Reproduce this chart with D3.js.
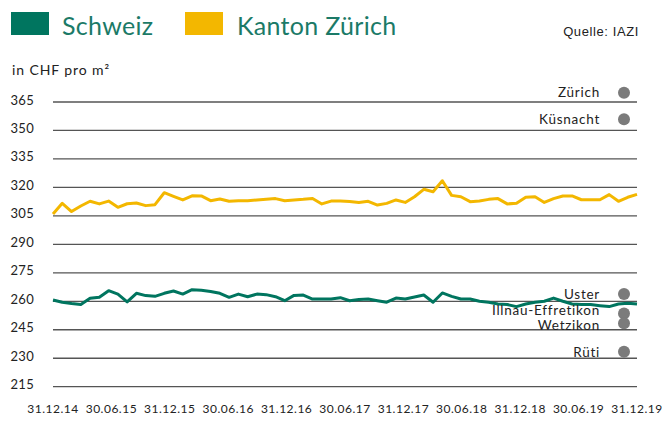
<!DOCTYPE html>
<meta charset="utf-8">
<script src="https://d3js.org/d3.v7.min.js"></script>
<style>
  body { margin: 0; background: #fff; }
  text { font-family: Lato, "Open Sans", sans-serif; }
</style>
<svg id="chart" width="664" height="426"></svg>
<script>

// data
var schweiz = [260.7,259.5,258.8,258.3,261.6,262.1,265.6,263.8,259.7,264.2,263.0,262.6,264.2,265.4,263.8,266.1,
  265.8,265.2,264.2,262.1,263.8,262.4,263.8,263.5,262.4,260.3,263.1,263.3,261.2,261.2,261.2,261.9,
  260.3,260.9,261.2,260.3,259.5,261.7,261.2,262.3,263.3,259.5,264.4,262.6,261.2,261.2,260.0,259.5,
  258.6,258.3,257.2,258.6,259.5,260.0,261.7,260.0,258.6,258.3,258.3,257.7,257.2,258.6,259.0,258.6];

var zuerich = [306.0,311.6,307.3,310.2,312.7,311.3,312.8,309.5,311.4,311.8,310.4,310.9,317.2,315.3,313.4,315.6,
  315.5,313.0,313.9,312.7,313.0,313.0,313.4,313.7,314.1,313.0,313.4,313.7,314.2,311.3,312.8,312.9,
  312.6,312.1,312.7,310.7,311.6,313.4,312.1,315.1,319.0,317.7,323.5,315.8,315.1,312.5,312.8,313.7,
  314.1,311.3,311.6,314.8,315.1,312.1,314.1,315.5,315.5,313.5,313.5,313.5,316.2,312.7,314.8,316.3];

var dateLabels = ["31.12.14","30.06.15","31.12.15","30.06.16","31.12.16","30.06.17",
  "31.12.17","30.06.18","31.12.18","30.06.19","31.12.19"];

var yTicks = [215,230,245,260,275,290,305,320,335,350,365];

var gemeinden = ["Zürich","Küsnacht","Uster","Illnau-Effretikon","Wetzikon","Rüti"];
var gemeindeWerte = [369.9,355.9,263.8,253.6,248.4,233.4];

var svg = d3.select("#chart");

var green = "#00755f", yellow = "#f3b700";

var x = d3.scaleLinear().domain([0, schweiz.length - 1]).range([53, 637]);
var xLab = d3.scalePoint().domain(dateLabels).range([53, 637]);
var y = d3.scaleLinear().domain([215, 365]).range([386.7, 102]);

// legend
svg.append("rect").attr("x", 11).attr("y", 12).attr("width", 38).attr("height", 23).attr("fill", green);
svg.append("text").attr("x", 62).attr("y", 35).text("Schweiz")
  .style("font-size", "25px").style("letter-spacing", "0.3px").attr("fill", "#1b7a67");
svg.append("rect").attr("x", 185).attr("y", 12).attr("width", 38).attr("height", 23).attr("fill", yellow);
svg.append("text").attr("x", 237).attr("y", 35).text("Kanton Zürich")
  .style("font-size", "25px").style("letter-spacing", "0.3px").attr("fill", "#1b7a67");

svg.append("text").attr("x", 639).attr("y", 36).attr("text-anchor", "end")
  .text("Quelle: IAZI").style("font-size", "13px").style("letter-spacing", "0.6px")
  .style("font-family", "'Liberation Sans', Arial, sans-serif").attr("fill", "#222");

svg.append("text").attr("x", 12).attr("y", 75).text("in CHF pro m²")
  .style("font-size", "14px").style("letter-spacing", "0.9px").attr("fill", "#222");

// grid + y labels
svg.append("g").selectAll("line").data(yTicks).enter().append("line")
  .attr("x1", 53).attr("x2", 637)
  .attr("y1", function(d){ return y(d) }).attr("y2", function(d){ return y(d) })
  .attr("stroke", "#555").attr("stroke-width", 1.3);

svg.append("g").selectAll("text").data(yTicks).enter().append("text")
  .attr("x", 34).attr("y", function(d){ return y(d) - 2 })
  .attr("dy", "0.35em").attr("text-anchor", "end")
  .text(function(d){ return d })
  .style("font-size", "13px").style("letter-spacing", "0.3px").attr("fill", "#222");

// x labels
svg.append("g").selectAll("text").data(dateLabels).enter().append("text")
  .attr("x", function(d){ return xLab(d) }).attr("y", 413)
  .attr("text-anchor", "middle")
  .text(function(d){ return d })
  .style("font-size", "12px").style("letter-spacing", "0.5px").attr("fill", "#222");

// lines
var line = d3.line().x(function(d, i){ return x(i) }).y(function(d){ return y(d) });

svg.append("path").datum(zuerich).attr("d", line)
  .attr("fill", "none").attr("stroke", yellow).attr("stroke-width", 3).attr("stroke-linejoin", "round");
svg.append("path").datum(schweiz).attr("d", line)
  .attr("fill", "none").attr("stroke", green).attr("stroke-width", 3).attr("stroke-linejoin", "round");

// gemeinden dots
svg.append("g").selectAll("circle").data(gemeindeWerte).enter().append("circle")
  .attr("cx", 624).attr("cy", function(d){ return y(d) })
  .attr("r", 6).attr("fill", "#7b7b7b");

// small nudge so the two close labels don't collide
var labelShift = [0, 0, 0, -3, 2, 0];
svg.append("g").selectAll("text").data(gemeinden).enter().append("text")
  .attr("x", 600).attr("y", function(d, i){ return y(gemeindeWerte[i]) + labelShift[i] })
  .attr("dy", "0.35em").attr("text-anchor", "end")
  .text(function(d){ return d })
  .style("font-size", "13.5px").style("letter-spacing", "0.75px").attr("fill", "#222");

</script>
